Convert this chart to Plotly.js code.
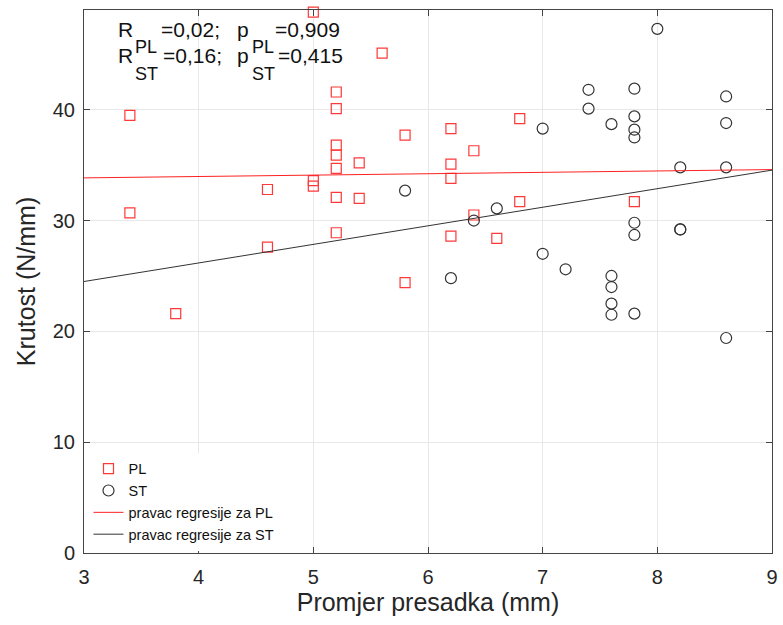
<!DOCTYPE html>
<html>
<head>
<meta charset="utf-8">
<script src="https://cdn.plot.ly/plotly-3.0.1.min.js"></script>
<style>html,body{margin:0;padding:0;background:#fff}#chart{width:783px;height:625px}</style>
</head>
<body>
<div id="chart"></div>
<script>
// PL series (red squares)
const plX = [3.4, 3.4, 3.8, 4.6, 4.6, 5.0, 5.0, 5.0, 5.2, 5.2, 5.2, 5.2, 5.2, 5.2, 5.2, 5.4, 5.4, 5.6, 5.8, 5.8, 6.2, 6.2, 6.2, 6.2, 6.4, 6.4, 6.6, 6.8, 6.8, 7.8];
const plY = [39.5, 30.7, 21.6, 32.8, 27.6, 48.8, 33.6, 33.1, 41.6, 40.1, 36.8, 35.9, 34.7, 32.1, 28.9, 35.2, 32.0, 45.1, 37.7, 24.4, 38.3, 35.1, 33.8, 28.6, 36.3, 30.5, 28.4, 39.2, 31.7, 31.7];
// ST series (black circles)
const stX = [5.8, 6.2, 6.4, 6.6, 7.0, 7.0, 7.2, 7.4, 7.4, 7.6, 7.6, 7.6, 7.6, 7.6, 7.8, 7.8, 7.8, 7.8, 7.8, 7.8, 7.8, 8.0, 8.2, 8.2, 8.2, 8.6, 8.6, 8.6, 8.6];
const stY = [32.7, 24.8, 30.0, 31.1, 38.3, 27.0, 25.6, 41.8, 40.1, 38.7, 25.0, 24.0, 22.5, 21.5, 41.9, 39.4, 38.2, 37.5, 29.8, 28.7, 21.6, 47.3, 34.8, 29.2, 29.2, 41.2, 38.8, 34.8, 19.4];
// Regression lines (endpoints)
const regX = [3, 9];
const regPL = [33.85, 34.6];
const regST = [24.5, 34.55];
const xTicks = [3, 4, 5, 6, 7, 8, 9];
const yTicks = [0, 10, 20, 30, 40];

const FONT = 'Liberation Sans, Arial, Helvetica, sans-serif';
const traces = [
  {x: plX, y: plY, mode: 'markers', type: 'scatter', name: 'PL', cliponaxis: false,
   marker: {symbol: 'square-open', size: 10, color: '#ff3838', line: {width: 1.2}}},
  {x: stX, y: stY, mode: 'markers', type: 'scatter', name: 'ST', cliponaxis: false,
   marker: {symbol: 'circle-open', size: 11, color: '#333333', line: {width: 1.2}}},
  {x: regX, y: regPL, mode: 'lines', type: 'scatter', name: 'pravac regresije za PL',
   line: {color: '#ff2020', width: 1}},
  {x: regX, y: regST, mode: 'lines', type: 'scatter', name: 'pravac regresije za ST',
   line: {color: '#333333', width: 1}}
];

// plot area geometry in pixels
const L = 83.5, R = 772, T = 9.5, B = 553.3;
const px = v => (v - L) / (R - L);
const py = v => (B - v) / (B - T);
function ann(text, x, y, size) {
  return {text: text, xref: 'paper', yref: 'paper', x: px(x), y: py(y),
          xanchor: 'left', yanchor: 'middle', showarrow: false,
          font: {family: FONT, size: size, color: '#111'}, borderpad: 0};
}
const big = 21, small = 18;
const annotations = [
  ann('R', 117, 29.5, big), ann('=0,02;', 160, 29.5, big), ann('p', 236, 29.5, big), ann('=0,909', 274, 29.5, big),
  ann('R', 117, 55.5, big), ann('PL', 134, 47, small), ann('ST', 134, 73.5, small),
  ann('=0,16;', 162, 55.5, big), ann('p', 236, 55.5, big), ann('PL', 251, 47, small), ann('ST', 251, 73.5, small),
  ann('=0,415', 277, 55.5, big)
];

const layout = {
  width: 783, height: 625,
  margin: {l: L, r: 783 - R, t: T, b: 625 - B, pad: 0},
  paper_bgcolor: '#fff', plot_bgcolor: '#fff',
  font: {family: FONT, color: '#262626'},
  showlegend: true,
  legend: {x: px(88), y: py(551), xanchor: 'left', yanchor: 'bottom', bgcolor: 'rgba(255,255,255,1)',
           borderwidth: 0, font: {family: FONT, size: 14.5, color: '#111'}, tracegroupgap: 0, itemwidth: 30},
  xaxis: {range: [3, 9], tickvals: xTicks, ticktext: xTicks.map(String), showgrid: true, gridcolor: '#e8e8e8',
          zeroline: false, showline: true, linecolor: '#444', linewidth: 1, mirror: 'ticks',
          ticks: 'inside', ticklen: 6, tickcolor: '#444', tickfont: {size: 20, color: '#262626'}, ticklabelstandoff: 6,
          title: {text: 'Promjer presadka (mm)', font: {size: 25, color: '#262626'}, standoff: 5}},
  yaxis: {range: [0, 49], tickvals: yTicks, ticktext: yTicks.map(String), showgrid: true, gridcolor: '#e8e8e8',
          zeroline: false, showline: true, linecolor: '#444', linewidth: 1, mirror: 'ticks',
          ticks: 'inside', ticklen: 6, tickcolor: '#444', tickfont: {size: 20, color: '#262626'}, ticklabelstandoff: 4,
          title: {text: 'Krutost (N/mm)', font: {size: 25, color: '#262626'}, standoff: 10}},
  annotations: annotations
};
Plotly.newPlot('chart', traces, layout, {staticPlot: true});
</script>
</body>
</html>
